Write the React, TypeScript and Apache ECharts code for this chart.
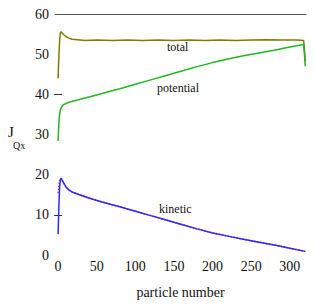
import React, { useEffect, useRef } from "react";
import * as echarts from "echarts";

const xTickLabels = [0, 50, 100, 150, 200, 250, 300];
const yTickLabels = [0, 10, 20, 30, 40, 50, 60];
const yMarkedTicks = [10, 40];

const totalX = [0, 1, 2, 3, 4, 5, 7, 10, 14, 18, 25, 35, 50, 70, 90, 110, 130, 150, 170, 190, 210, 230, 250, 270, 290, 310, 318, 319, 320];
const totalY = [44.0, 49.5, 53.5, 55.4, 55.6, 55.3, 54.9, 54.4, 54.0, 53.7, 53.6, 53.4, 53.5, 53.4, 53.5, 53.4, 53.5, 53.4, 53.5, 53.4, 53.5, 53.4, 53.5, 53.6, 53.5, 53.5, 53.4, 51.0, 48.2];

const potentialX = [0, 1, 2, 3, 5, 7, 10, 15, 25, 35, 45, 57, 70, 80, 100, 120, 140, 160, 180, 200, 220, 240, 260, 280, 300, 318, 319, 320];
const potentialY = [28.4, 33.0, 35.0, 36.2, 37.0, 37.4, 37.7, 38.1, 38.6, 39.1, 39.6, 40.2, 40.9, 41.4, 42.5, 43.6, 44.7, 45.8, 46.9, 47.9, 48.8, 49.6, 50.3, 51.0, 51.8, 52.4, 50.0, 47.0];

const kineticX = [0, 1, 2, 3, 4, 5, 7, 10, 14, 18, 25, 35, 45, 57, 70, 80, 100, 120, 140, 160, 180, 200, 220, 240, 260, 280, 300, 320];
const kineticY = [5.2, 12.0, 17.0, 18.8, 19.1, 18.7, 18.0, 17.0, 16.2, 15.7, 15.2, 14.5, 13.9, 13.2, 12.5, 12.0, 10.9, 9.8, 8.7, 7.6, 6.5, 5.5, 4.7, 3.9, 3.2, 2.5, 1.7, 0.9];

const kineticRedStartX = [0, 1, 2, 3, 4];
const kineticRedStartY = [15.4, 17.2, 18.4, 18.9, 19.1];

const seriesNames = ["total", "potential", "kinetic"];

const pairs = (xs: number[], ys: number[]) => xs.map((x, i) => [x, ys[i]]);

const serif = "Liberation Serif";

export default function App() {
  const ref = useRef<HTMLDivElement>(null);
  useEffect(() => {
    document.body.style.margin = "0";
    const chart = echarts.init(ref.current!, null, { renderer: "svg" });
    const redData = pairs(kineticRedStartX, kineticRedStartY).concat(
      pairs(kineticX, kineticY).filter((p) => p[0] > 4)
    );
    const yAxisBase = {
      type: "value",
      min: 0,
      max: 60,
      interval: 10,
      axisLine: { show: false },
      splitLine: { show: false },
      axisTick: {
        show: true,
        inside: true,
        length: 4,
        customValues: yMarkedTicks,
        lineStyle: { color: "#333", width: 1 },
      },
    };
    const txt = (text: string, left: number, top: number, size: number) => ({
      type: "text",
      left,
      top,
      style: { text, fontFamily: serif, fontSize: size, fill: "#111" },
    });
    chart.setOption({
      animation: false,
      backgroundColor: "#fff",
      textStyle: { fontFamily: serif },
      grid: { left: 55, right: 8, top: 14, bottom: 41 },
      xAxis: [
        {
          type: "value",
          min: -4,
          max: 321,
          axisLine: { show: false },
          axisTick: { show: false },
          splitLine: { show: false },
          axisLabel: {
            customValues: xTickLabels,
            fontFamily: serif,
            fontSize: 14,
            color: "#111",
            margin: 4,
          },
          name: "particle number",
          nameLocation: "middle",
          nameGap: 30,
          nameTextStyle: { fontFamily: serif, fontSize: 14, color: "#111" },
        },
        {
          type: "value",
          position: "top",
          min: -4,
          max: 321,
          axisLine: { show: true, onZero: false, lineStyle: { color: "#555", width: 1 } },
          axisTick: { show: false },
          axisLabel: { show: false },
          splitLine: { show: false },
        },
      ],
      yAxis: [
        {
          ...yAxisBase,
          position: "left",
          axisLabel: {
            customValues: yTickLabels,
            fontFamily: serif,
            fontSize: 14,
            color: "#111",
            margin: 6,
          },
        },
        {
          ...yAxisBase,
          position: "right",
          axisLabel: { show: false },
        },
      ],
      series: [
        {
          name: seriesNames[0],
          type: "line",
          data: pairs(totalX, totalY),
          showSymbol: false,
          lineStyle: { color: "#7d7d00", width: 1.5 },
          z: 3,
        },
        {
          name: seriesNames[1],
          type: "line",
          data: pairs(potentialX, potentialY),
          showSymbol: false,
          lineStyle: { color: "#22b622", width: 1.5 },
          z: 3,
        },
        {
          name: seriesNames[2] + "-red",
          type: "line",
          data: redData,
          showSymbol: false,
          lineStyle: { color: "#ff2a2a", width: 1.5, type: "dotted" },
          z: 2,
        },
        {
          name: seriesNames[2],
          type: "line",
          data: pairs(kineticX, kineticY),
          showSymbol: false,
          lineStyle: { color: "#2a2aff", width: 1.5 },
          z: 3,
        },
      ],
      graphic: [
        txt(seriesNames[0], 167, 41, 12),
        txt(seriesNames[1], 157, 82, 12),
        txt(seriesNames[2], 159, 203, 12),
        txt("J", 8, 124, 15),
        txt("Qx", 13, 140, 10),
      ],
    });
    return () => chart.dispose();
  }, []);
  return <div ref={ref} style={{ width: 314, height: 304 }} />;
}
